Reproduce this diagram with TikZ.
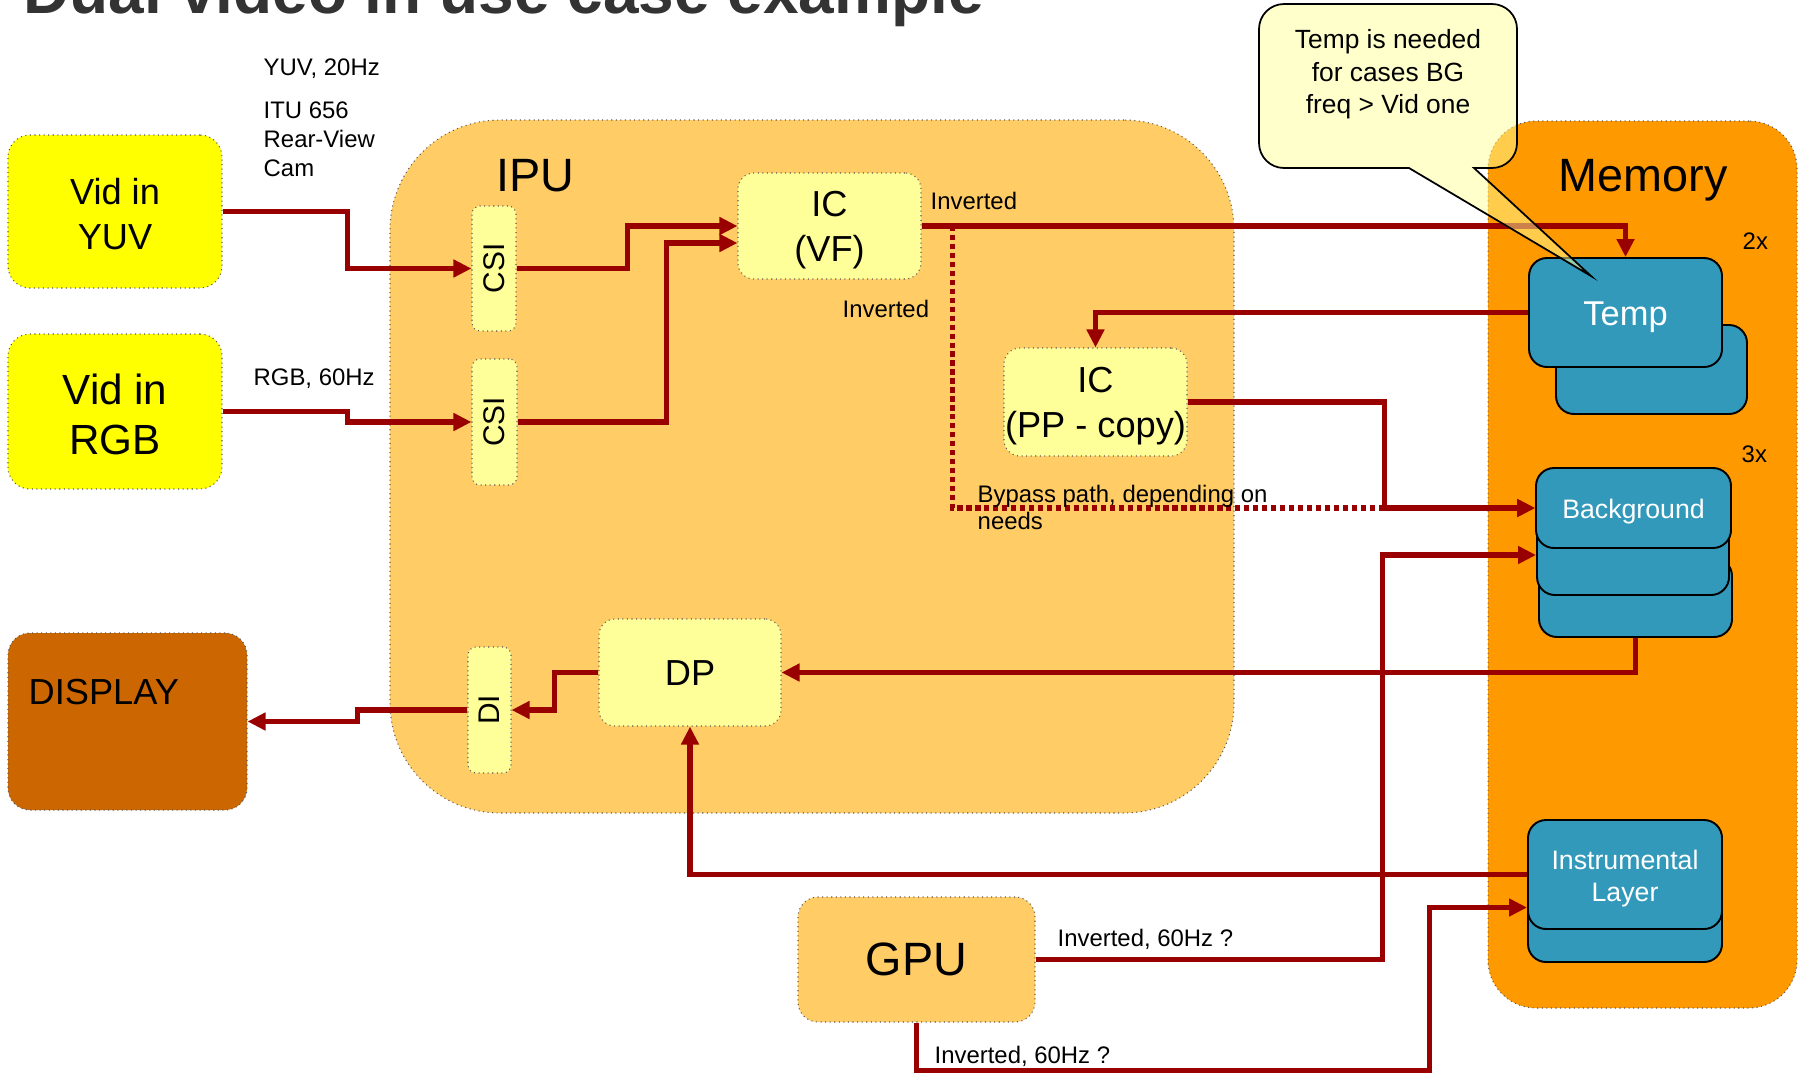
\documentclass[tikz,border=0pt]{standalone}
\usepackage{fontspec}
\setmainfont{Liberation Sans}
\usetikzlibrary{arrows.meta,positioning,calc}
\definecolor{ipuorange}{HTML}{FFCC66}
\definecolor{memorange}{HTML}{FF9900}
\definecolor{vidyellow}{HTML}{FFFF00}
\definecolor{blockyellow}{HTML}{FFFF99}
\definecolor{dispbrown}{HTML}{CC6600}
\definecolor{bufblue}{HTML}{3399BB}
\definecolor{flowred}{HTML}{990000}
\definecolor{notefill}{HTML}{FFFF97}
\definecolor{titlegray}{HTML}{333333}
% lower a line of text a little, keeping its box
\newcommand{\lo}[2][0.45mm]{\raisebox{-#1}[\height][\depth]{#2}}
\tikzset{
  unit/.style={draw=black!65, densely dotted, line width=0.3pt, inner sep=0pt, align=center},
  vid/.style={unit, fill=vidyellow, rounded corners=2.2mm},
  blk/.style={unit, fill=blockyellow, rounded corners=1.6mm, fbox},
  slim/.style={unit, fill=blockyellow, rounded corners=0.8mm,
               font=\fontsize{8.5pt}{10pt}\selectfont},
  buf/.style={draw=black, line width=0.55pt, fill=bufblue, rounded corners=1.8mm,
              inner sep=0pt, align=center, text=white},
  flow/.style={-{Triangle[length=1.8mm,width=1.7mm]}, line width=1.55pt, draw=flowred},
  bypass/.style={flow, dash pattern=on 1.5pt off 1.05pt},
  lbl/.style={anchor=west, inner sep=0pt, align=left, yshift=-0.15mm, fnote},
  ftitle/.style={font=\bfseries\fontsize{18.2pt}{22pt}\selectfont},
  fhead/.style={font=\fontsize{13.3pt}{16pt}\selectfont},
  fbox/.style={font=\fontsize{10.3pt}{12.8pt}\selectfont},
  fbuf/.style={font=\fontsize{7.6pt}{9.1pt}\selectfont},
  fnote/.style={font=\fontsize{6.8pt}{8.25pt}\selectfont}
}

\begin{document}
\begin{tikzpicture}[x=0.1mm,y=-0.1mm]
  \useasboundingbox (0,0) rectangle (1806,1075);
  \node[ftitle, text=titlegray, anchor=base west, inner sep=0pt] (title) at (23,13) {Dual video in use case example};

  % containers
  \node[unit, fill=ipuorange, rounded corners=11mm, minimum width=84.4mm, minimum height=69.3mm] (ipu) at (812,466.5) {};
  \node[unit, fill=memorange, rounded corners=4.8mm, minimum width=30.9mm, minimum height=88.7mm] (memory) at (1642.5,564.5) {};
  \node[fhead] (iputxt) at (535.5,176) {IPU};
  \node[fhead] (memtxt) at (1643,180) {Memory};

  % outside units
  \node[vid, fbox, minimum width=21.4mm, minimum height=15.3mm] (vidyuv) at (115,211.5) {\lo[0.25mm]{Vid in}\\\lo[0.25mm]{YUV}};
  \node[vid, font=\fontsize{12pt}{14.2pt}\selectfont, minimum width=21.4mm, minimum height=15.5mm] (vidrgb) at (115,411.5) {\lo[0.25mm]{Vid in}\\\lo[0.25mm]{RGB}};
  \node[unit, fill=dispbrown, rounded corners=2.2mm, minimum width=23.9mm, minimum height=17.7mm] (display) at (127.5,721.5) {};
  \node[fbox, anchor=west, inner sep=0pt] (disptxt) at (28,692) {DISPLAY};
  \node[unit, fill=ipuorange, rounded corners=2mm, fhead, minimum width=23.7mm, minimum height=12.5mm] (gpu) at (916.5,959.5) {GPU};

  % IPU blocks
  \node[slim, minimum width=4.4mm, minimum height=12.5mm] (csi1) at (494,268.5) {\rotatebox{90}{CSI}};
  \node[slim, minimum width=4.5mm, minimum height=12.6mm] (csi2) at (494.5,422) {\rotatebox{90}{CSI}};
  \node[slim, minimum width=4.3mm, minimum height=12.6mm] (di) at (489.5,710) {\rotatebox{90}{DI}};
  \node[blk, minimum width=18.3mm, minimum height=10.6mm] (icvf) at (829.5,226) {\lo{IC}\\\lo{(VF)}};
  \node[blk, minimum width=18.3mm, minimum height=10.8mm] (icpp) at (1095.5,402) {\lo{IC}\\\lo{(PP - copy)}};
  \node[blk, minimum width=18.2mm, minimum height=10.7mm] (dp) at (690,672.5) {\lo[0.1mm]{DP}};

  % memory buffers
  \node[buf, minimum width=19.1mm, minimum height=8.9mm] (tempb) at (1651.5,369.5) {};
  \node[buf, font=\fontsize{9.8pt}{11.8pt}\selectfont, minimum width=19.3mm, minimum height=10.9mm] (temp) at (1625.5,312.5) {\lo{Temp}};
  \node[buf, minimum width=19.3mm, minimum height=7.9mm] (bg3) at (1635.5,597.5) {};
  \node[buf, minimum width=19.2mm, minimum height=8mm] (bg2) at (1633,555) {};
  \node[buf, fbuf, minimum width=19.5mm, minimum height=8mm] (bg1) at (1633.5,508) {\lo[0.35mm]{Background}};
  \node[buf, minimum width=19.4mm, minimum height=10.9mm] (ilb) at (1625,907.5) {};
  \node[buf, fbuf, minimum width=19.4mm, minimum height=10.9mm] (il) at (1625,874.5) {\lo{Instrumental}\\\lo{Layer}};

  % data paths
  \draw[flow] (vidyuv.east) -- ++(125,0) |- (csi1.west);
  \draw[flow] (vidrgb.east) -- ++(125,0) |- (csi2.west);
  \draw[flow] (csi1.east) -- ++(111,0) |- (icvf.west);
  \draw[flow] (csi2.east) -- ++(149,0) |- ([yshift=-1.7mm]icvf.west);
  \draw[flow] (icvf.east) -| (temp.north);
  \draw[bypass] ([xshift=3.1mm]icvf.east) |- (bg1.west);
  \draw[flow] (temp.west) -| (icpp.north);
  \draw[flow] (icpp.east) -- ++(197,0) |- (bg1.west);
  \draw[flow] (gpu.east) -- ++(347,0) |- (bg2.west);
  \draw[flow] (bg3.south) |- (dp.east);
  \draw[flow] (dp.west) -- ++(-44,0) |- (di.east);
  \draw[flow] (di.west) -- ++(-110,0) |- (display.east);
  \draw[flow] (il.west) -| (dp.south);
  \draw[flow] (gpu.south) -- ++(0,48) -- ++(513,0) |- (ilb.west);

  % labels
  \node[lbl] (yuvrate) at (263,67) {YUV, 20Hz};
  \node[lbl] (camlbl) at (263,138) {ITU 656\\Rear-View\\Cam};
  \node[lbl] (rgbrate) at (253,377) {RGB, 60Hz};
  \node[lbl] (inv1) at (930,199) {Inverted};
  \node[lbl] (inv2) at (842,307) {Inverted};
  \node[lbl, yshift=0.2mm, font=\fontsize{6.8pt}{7.7pt}\selectfont] (bypasslbl) at (977,507.5) {Bypass path, depending on\\needs};
  \node[lbl, yshift=0.15mm] (gpuinv1) at (1057,939) {Inverted, 60Hz ?};
  \node[lbl, yshift=0.15mm] (gpuinv2) at (934,1056) {Inverted, 60Hz ?};
  \node[lbl] (twox) at (1742,240) {2x};
  \node[lbl] (threex) at (1741,453) {3x};

  % note
  \draw[fill=notefill, fill opacity=0.5, draw=black, line width=0.5pt]
    (1409,168) -- (1591,276) -- (1474,168) -- (1492,168)
    arc[start angle=90, end angle=0, radius=25] -- (1517,29)
    arc[start angle=0, end angle=-90, radius=25] -- (1284,4)
    arc[start angle=-90, end angle=-180, radius=25] -- (1259,143)
    arc[start angle=180, end angle=90, radius=25] -- cycle;
  \node[font=\fontsize{7.5pt}{9.25pt}\selectfont, align=center] (notetxt) at (1388,74.5) {Temp is needed\\for cases BG\\freq > Vid one};
\end{tikzpicture}
\end{document}
